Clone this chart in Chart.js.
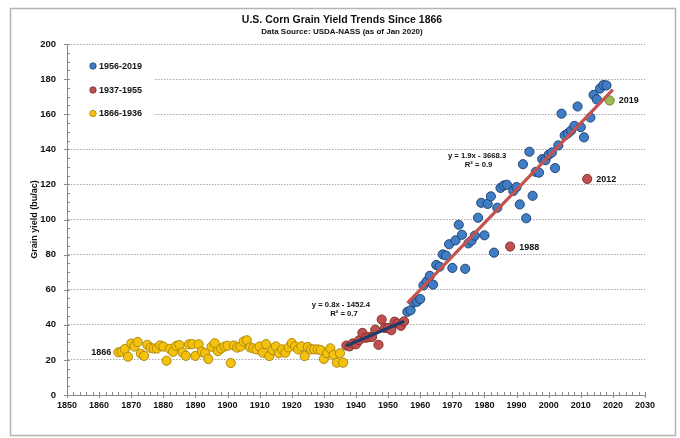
<!DOCTYPE html>
<html>
<head>
<meta charset="utf-8">
<title>U.S. Corn Grain Yield Trends Since 1866</title>
<script src="https://cdn.jsdelivr.net/npm/chart.js@4.4.1/dist/chart.umd.min.js"></script>
<style>
  html, body { margin: 0; padding: 0; background: #fff; }
  #wrap { width: 680px; height: 438px; }
</style>
</head>
<body>
<div id="wrap"><canvas id="yieldChart"></canvas></div>
<script>
// grain yield, bu/ac, one value per year starting at the given year
const earlyStart = 1866;
const earlyYield = [
  24.3, 24.7, 26.2, 21.8, 29.3, 27.6, 30.2, 23.5, 22.3, 28.6,
  26.9, 26.5, 26.5, 28.3, 27.6, 19.5, 26.3, 24.6, 28.0, 28.5,
  24.2, 22.3, 28.9, 29.0, 22.3, 28.9, 24.7, 23.8, 20.5, 27.5,
  29.5, 25.0, 26.5, 27.6, 28.1, 18.2, 28.2, 27.0, 27.6, 30.5,
  31.2, 27.1, 26.6, 26.0, 27.7, 24.1, 29.0, 22.2, 25.6, 27.7,
  23.8, 26.0, 24.1, 27.1, 29.6, 27.7, 26.0, 27.7, 22.2, 27.4,
  26.0, 26.0, 26.0, 25.6, 20.5, 23.8, 26.6, 22.8, 18.4, 23.8,
  18.4
];
const midStart = 1937;
const midYield = [
  28.2, 27.7, 29.4, 28.9, 31.2, 35.4, 32.6, 33.0, 33.1, 37.2,
  28.6, 43.0, 38.2, 38.2, 36.9, 41.8, 40.7, 39.4, 42.0
];
const modernStart = 1956;
const modernYield = [
  47.4, 48.3, 52.8, 53.1, 54.7, 62.4, 64.7, 67.9, 62.9, 74.1,
  73.1, 80.1, 79.5, 85.9, 72.4, 88.1, 97.0, 91.3, 71.9, 86.4,
  88.0, 90.8, 101.0, 109.5, 91.0, 108.9, 113.2, 81.1, 106.7, 118.0,
  119.4, 119.8, 84.6, 116.3, 118.5, 108.6, 131.5, 100.7, 138.6, 113.5,
  127.1, 126.7, 134.4, 133.8, 136.9, 138.2, 129.3, 142.2, 160.3, 147.9,
  149.1, 150.7, 153.3, 164.4, 152.6, 146.8, 123.1, 158.1, 171.0, 168.4,
  174.6, 176.6, 176.4, 167.8
];
const droughtYears = [1988, 2012];
const latestYear = 2019;

const seriesNames = ["1956-2019", "1937-1955", "1866-1936"];
const midEquation = ["y = 0.8x - 1452.4", "R\u00b2 = 0.7"];
const modernEquation = ["y = 1.9x - 3668.3", "R\u00b2 = 0.9"];

const yearTicks = [1850, 1860, 1870, 1880, 1890, 1900, 1910, 1920, 1930, 1940,
                   1950, 1960, 1970, 1980, 1990, 2000, 2010, 2020, 2030];
const yieldTicks = [0, 20, 40, 60, 80, 100, 120, 140, 160, 180, 200];

const BLUE = "#3f7dc6", BLUE_EDGE = "#1d3c68";
const RED = "#c0504d", RED_EDGE = "#7a2b29";
const GOLD = "#f4c20d", GOLD_EDGE = "#a9820a";
const GREEN = "#9bbb59", GREEN_EDGE = "#5d7a2b";
const FONT = "'Liberation Sans', Arial, sans-serif";

function toPoints(start, values) {
  return values.map((v, i) => ({ x: start + i, y: v }));
}

// least squares fit, returned as a function of x
function fitLine(pts) {
  const n = pts.length;
  const mx = pts.reduce((s, p) => s + p.x, 0) / n;
  const my = pts.reduce((s, p) => s + p.y, 0) / n;
  let sxy = 0, sxx = 0;
  pts.forEach(p => { sxy += (p.x - mx) * (p.y - my); sxx += (p.x - mx) * (p.x - mx); });
  const slope = sxy / sxx;
  return x => my + slope * (x - mx);
}

const earlyPts = toPoints(earlyStart, earlyYield);
const midPts = toPoints(midStart, midYield);
const modernPts = toPoints(modernStart, modernYield);

const midFit = fitLine(midPts);
const modernFit = fitLine(modernPts);
const midEnd = midStart + midYield.length - 1;
const modernEnd = modernStart + modernYield.length; // one period forward
const midTrend = [{ x: midStart, y: midFit(midStart) }, { x: midEnd, y: midFit(midEnd) }];
const modernTrend = [{ x: modernStart, y: modernFit(modernStart) }, { x: modernEnd, y: modernFit(modernEnd) }];

function modernFill(ctx) {
  const yr = modernStart + ctx.dataIndex;
  if (yr === latestYear) return GREEN;
  return droughtYears.includes(yr) ? RED : BLUE;
}
function modernEdge(ctx) {
  const yr = modernStart + ctx.dataIndex;
  if (yr === latestYear) return GREEN_EDGE;
  return droughtYears.includes(yr) ? RED_EDGE : BLUE_EDGE;
}

const decorations = {
  id: "decorations",
  beforeDraw(chart) {
    const c = chart.ctx;
    c.save();
    c.fillStyle = "#fff";
    c.fillRect(0, 0, chart.width, chart.height);
    c.strokeStyle = "#b4b4b4";
    c.lineWidth = 1.5;
    c.strokeRect(10.5, 8.5, 665, 427);
    c.restore();
  },
  afterDraw(chart) {
    const c = chart.ctx;
    const area = chart.chartArea;
    const xs = chart.scales.x, ys = chart.scales.y;
    c.save();

    // title
    c.fillStyle = "#111";
    c.textAlign = "center";
    c.textBaseline = "middle";
    c.font = "bold 10.5px " + FONT;
    c.fillText("U.S. Corn Grain Yield Trends Since 1866", 342, 20);
    c.font = "bold 8px " + FONT;
    c.fillText("Data Source: USDA-NASS (as of Jan 2020)", 342, 32);

    // minor and major tick marks
    c.strokeStyle = "#8a8a8a";
    c.lineWidth = 1;
    for (let yr = 1850; yr <= 2030; yr += 2) {
      const px = Math.round(xs.getPixelForValue(yr)) + 0.5;
      const major = yr % 10 === 0;
      c.beginPath();
      c.moveTo(px, area.bottom - 3);
      c.lineTo(px, area.bottom + (major ? 3 : 0));
      c.stroke();
    }
    for (let v = 0; v <= 200; v += 5) {
      const py = Math.round(ys.getPixelForValue(v)) + 0.5;
      const major = v % 20 === 0;
      c.beginPath();
      c.moveTo(area.left - (major ? 3 : 0), py);
      c.lineTo(area.left + 3, py);
      c.stroke();
    }

    // legend inside the plot
    c.fillStyle = "#fff";
    c.fillRect(area.left + 4, 52, 84, 70);
    const legendFill = [BLUE, RED, GOLD], legendEdge = [BLUE_EDGE, RED_EDGE, GOLD_EDGE];
    const legendY = [66, 90, 113.5];
    c.font = "bold 9px " + FONT;
    c.textAlign = "left";
    seriesNames.forEach((name, i) => {
      c.beginPath();
      c.arc(area.left + 26, legendY[i], 3.2, 0, Math.PI * 2);
      c.fillStyle = legendFill[i];
      c.fill();
      c.strokeStyle = legendEdge[i];
      c.lineWidth = 0.8;
      c.stroke();
      c.fillStyle = "#111";
      c.fillText(name, area.left + 32, legendY[i] + 0.5);
    });

    // labels beside single points
    const modernMeta = chart.getDatasetMeta(2);
    const earlyMeta = chart.getDatasetMeta(4);
    c.font = "bold 9px " + FONT;
    c.fillStyle = "#111";
    [...droughtYears, latestYear].forEach(yr => {
      const el = modernMeta.data[yr - modernStart];
      c.textAlign = "left";
      c.fillText(String(yr), el.x + 9, el.y + 0.5);
    });
    const first = earlyMeta.data[0];
    c.textAlign = "right";
    c.fillText(String(earlyStart), first.x - 7, first.y + 0.5);

    // trend equations
    c.font = "bold 7.7px " + FONT;
    c.textAlign = "center";
    const eq1x = xs.getPixelForValue(1935.3);
    c.fillText(midEquation[0], eq1x, ys.getPixelForValue(51.3));
    c.fillText(midEquation[1], eq1x + 3, ys.getPixelForValue(46.4));
    const eq2x = xs.getPixelForValue(1977.7);
    c.fillText(modernEquation[0], eq2x, ys.getPixelForValue(136.3));
    c.fillText(modernEquation[1], eq2x + 1.5, ys.getPixelForValue(131.3));

    c.restore();
  }
};

Chart.defaults.font.family = FONT;
Chart.defaults.color = "#111";

new Chart(document.getElementById("yieldChart"), {
  type: "scatter",
  data: {
    datasets: [
      {
        label: "1956-2019 trend",
        data: modernTrend,
        showLine: true,
        borderColor: "#c4524f",
        borderWidth: 3.2,
        pointRadius: 0,
        order: 0
      },
      {
        label: "1937-1955 trend",
        data: midTrend,
        showLine: true,
        borderColor: "#1f3a6b",
        borderWidth: 3.2,
        pointRadius: 0,
        order: 0
      },
      {
        label: seriesNames[0],
        data: modernPts,
        backgroundColor: modernFill,
        borderColor: modernEdge,
        borderWidth: 0.9,
        pointRadius: 4.6,
        order: 1
      },
      {
        label: seriesNames[1],
        data: midPts,
        backgroundColor: RED,
        borderColor: RED_EDGE,
        borderWidth: 0.9,
        pointRadius: 4.6,
        order: 1
      },
      {
        label: seriesNames[2],
        data: earlyPts,
        backgroundColor: GOLD,
        borderColor: GOLD_EDGE,
        borderWidth: 0.9,
        pointRadius: 4.6,
        order: 1
      }
    ]
  },
  options: {
    responsive: true,
    maintainAspectRatio: false,
    animation: false,
    events: [],
    layout: { padding: { top: 44, right: 35, left: 0, bottom: 0 } },
    plugins: {
      legend: { display: false },
      tooltip: { enabled: false }
    },
    scales: {
      x: {
        type: "linear",
        min: 1850,
        max: 2030,
        afterBuildTicks: s => { s.ticks = yearTicks.map(v => ({ value: v })); },
        afterFit: s => { s.height = 43; },
        grid: { display: false, drawTicks: false },
        border: { display: true, color: "#8a8a8a", width: 1 },
        ticks: {
          autoSkip: false,
          maxRotation: 0,
          padding: 5.6,
          color: "#111",
          font: { size: 9, weight: "bold" },
          callback: v => String(v)
        }
      },
      y: {
        min: 0,
        max: 200,
        afterBuildTicks: s => { s.ticks = yieldTicks.map(v => ({ value: v })); },
        afterFit: s => { s.width = 67; },
        grid: {
          color: "#8f8f8f",
          lineWidth: 0.8,
          drawTicks: false
        },
        border: { display: true, color: "#8a8a8a", width: 1, dash: [1.5, 1.5] },
        ticks: {
          padding: 11,
          color: "#111",
          font: { size: 9.5, weight: "bold" },
          callback: v => String(v)
        },
        title: {
          display: true,
          text: "Grain yield (bu/ac)",
          color: "#111",
          font: { size: 9, weight: "bold" },
          padding: { top: 29, bottom: 0 }
        }
      }
    }
  },
  plugins: [decorations]
});
</script>
</body>
</html>
